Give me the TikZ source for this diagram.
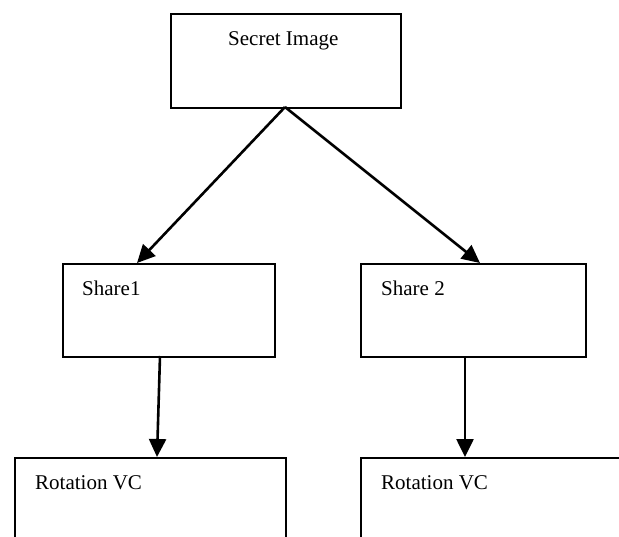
\documentclass[tikz,border=0pt]{standalone}
\usepackage{fontspec}
\setmainfont{Liberation Serif}
\usetikzlibrary{arrows.meta}
\begin{document}
\begin{tikzpicture}[x=1pt,y=-1pt,
  box/.style={draw=black,line width=2pt,rectangle,inner sep=0pt,anchor=north west},
  lbl/.style={anchor=base west,inner sep=0pt,font=\fontsize{21}{24}\selectfont},
  arr/.style={line width=2.6pt,-{Triangle[length=18pt,width=17pt]}}]
\useasboundingbox (0,0) rectangle (619,536);
\fill[white] (0,0) rectangle (619,536);
\node[box,minimum width=230pt,minimum height=94pt] (si) at (170,13) {};
\node[box,minimum width=212pt,minimum height=93pt] (s1) at (62,263) {};
\node[box,minimum width=225pt,minimum height=93pt] (s2) at (360,263) {};
\node[box,minimum width=271pt,minimum height=90pt] (r1) at (14,457) {};
\node[box,minimum width=270pt,minimum height=90pt] (r2) at (360,457) {};
\node[lbl] (tsi) at (228,45) {Secret Image};
\node[lbl] (ts1) at (82,295) {Share1};
\node[lbl] (ts2) at (381,295) {Share 2};
\node[lbl] (tr1) at (35,489) {Rotation VC};
\node[lbl] (tr2) at (381,489) {Rotation VC};
\coordinate (apex) at (285,107);
\coordinate (s1in) at (137,263);
\coordinate (s2in) at (480,263);
\coordinate (s1out) at (160,356);
\coordinate (r1in) at (157,457);
\coordinate (s2out) at (465,356);
\coordinate (r2in) at (465,457);
\draw[arr] (apex) -- (s1in);
\draw[arr] (apex) -- (s2in);
\draw[arr] (s1out) -- (r1in);
\draw[arr] (s2out) -- (r2in);
\end{tikzpicture}
\end{document}
